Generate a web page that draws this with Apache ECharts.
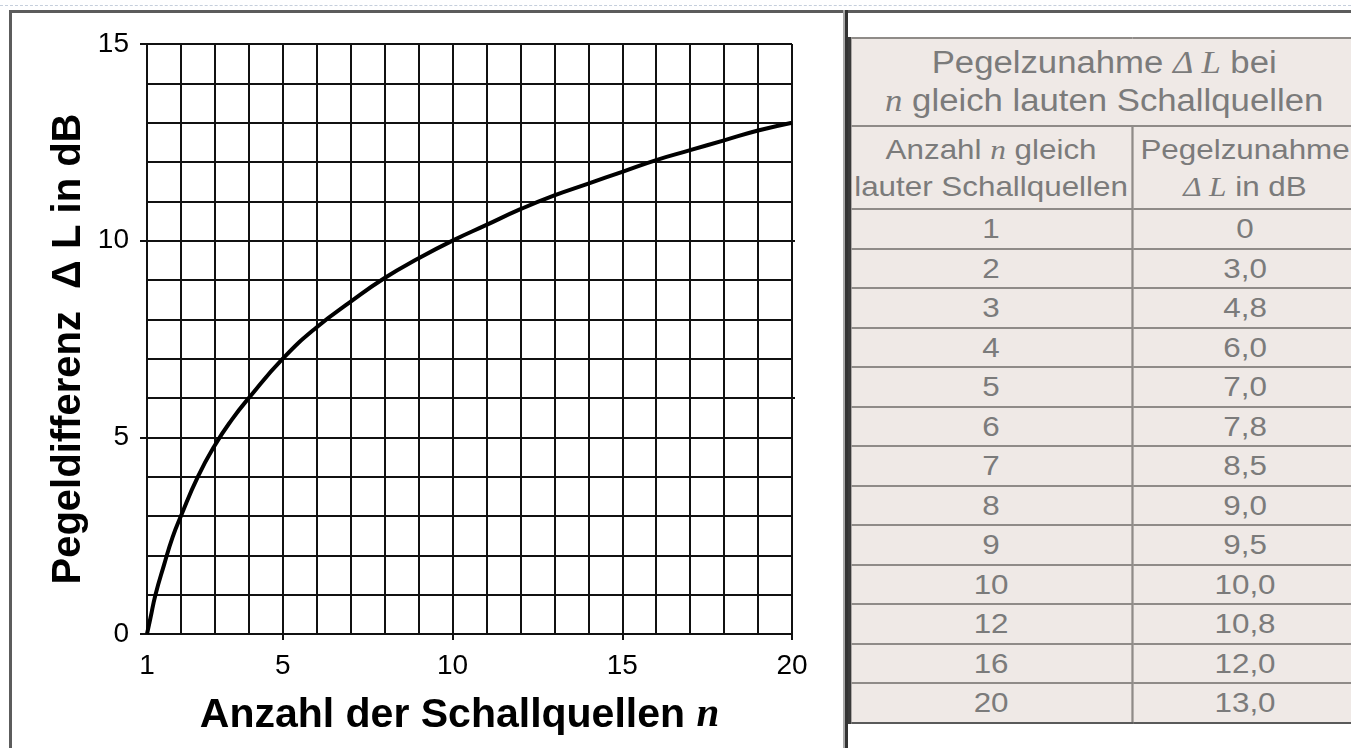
<!DOCTYPE html>
<html>
<head>
<meta charset="utf-8">
<script src="https://cdn.jsdelivr.net/npm/echarts@6/dist/echarts.min.js"></script>
<style>
	html, body { margin:0; padding:0; width:1351px; height:748px; overflow:hidden; background:#fff; }
	#chart { position:absolute; left:0; top:0; width:1351px; height:748px; }
	.dots { position:absolute; left:0; top:5px; width:1351px; border-top:1px dashed #c6cfdc; }
	.frame-top { position:absolute; left:9px; top:10px; width:1342px; height:3px; background:#5c5c5c; }
	.frame-left { position:absolute; left:9px; top:10px; width:3px; height:738px; background:#5c5c5c; }
	.divider-a { position:absolute; left:843px; top:10px; width:2px; height:738px; background:#a8a8a8; }
	.divider-b { position:absolute; left:845px; top:10px; width:3px; height:738px; background:#333; }
	#tbl {
		position:absolute; left:848px; top:37px; width:454px;
		border-collapse:collapse; table-layout:fixed;
		transform-origin:0 0; transform:scaleX(1.12);
		background:#efe9e6; color:#7b7b7b;
		font-family:'Liberation Sans', Arial, sans-serif;
	}
	#tbl td { border:2px solid #8f8b88; text-align:center; padding:0; overflow:visible; white-space:nowrap; }
	#tbl td:first-child { border-left:3px solid #3a3a3a; }
	#tbl tr:last-child td { border-bottom:2px solid #5a5a5a; }
	#tbl .h1 td { height:86px; font-size:31px; line-height:38px; }
	#tbl .h2 td { height:81px; font-size:28px; line-height:37px; }
	#tbl .row td { height:37.5px; font-size:28px; line-height:37px; }
	#tbl i { font-family:'Liberation Serif', serif; font-style:italic; }
</style>
</head>
<body>
<div id="chart"></div>
<div class="dots"></div>
<div class="frame-top"></div>
<div class="frame-left"></div>
<div class="divider-a"></div>
<div class="divider-b"></div>
<table id="tbl"><colgroup><col style="width:252px"><col style="width:202px"></colgroup><tbody></tbody></table>
<script>
	// curve points
	const curveN = [1, 1.1, 1.25, 1.5, 1.75, 2, 2.5, 3, 3.5, 4, 5, 6, 7, 8, 9, 10, 11, 12, 13, 14, 15, 16, 17, 18, 19, 20];
	const curveDL = [0, 0.4, 1.0, 1.75, 2.45, 3.0, 4.0, 4.8, 5.45, 6.0, 7.0, 7.8, 8.45, 9.05, 9.55, 10.0, 10.4, 10.8, 11.15, 11.45, 11.75, 12.05, 12.3, 12.55, 12.8, 13.0];

	// table on the right
	const tableN = ['1', '2', '3', '4', '5', '6', '7', '8', '9', '10', '12', '16', '20'];
	const tableDL = ['0', '3,0', '4,8', '6,0', '7,0', '7,8', '8,5', '9,0', '9,5', '10,0', '10,8', '12,0', '13,0'];

	const xLabels = [1, 5, 10, 15, 20];
	const xTicks = [5, 10, 15, 20];
	const yTicks = [0, 5, 10, 15];
	const yRightTicks = [6, 10];

	let rows = `<tr class="h1"><td colspan="2">Pegelzunahme <i>Δ L</i> bei<br><i>n</i> gleich lauten Schallquellen</td></tr>
		<tr class="h2"><td>Anzahl <i>n</i> gleich<br>lauter Schallquellen</td><td>Pegelzunahme<br><i>Δ L</i> in dB</td></tr>`;
	tableN.forEach((n, i)=>{
		rows += `<tr class="row"><td>${n}</td><td>${tableDL[i]}</td></tr>`;
	});
	document.querySelector('#tbl tbody').innerHTML = rows;

	const INK = '#111';
	const FONT = "'Liberation Sans', Arial, sans-serif";
	const tickOnly = (extra) => Object.assign({
		type: 'value',
		axisLine: {show:false},
		axisLabel: {show:false},
		splitLine: {show:false}
	}, extra);

	let chart = echarts.init(document.getElementById('chart'));
	chart.setOption({
		animation: false,
		grid: {left:147, top:44, width:645, height:590, containLabel:false},
		xAxis: [
			{
				type: 'value', min: 1, max: 20, interval: 1,
				axisLine: {show:true, onZero:false, lineStyle:{color:INK, width:2}},
				axisTick: {show:false},
				axisLabel: {
					show:true, margin:18, color:'#000', fontSize:28, fontFamily:FONT,
					formatter: v => xLabels.indexOf(v) >= 0 ? String(v) : ''
				},
				splitLine: {show:true, lineStyle:{color:INK, width:2}},
				name: '{a|Anzahl der Schallquellen }{n|n}',
				nameLocation: 'middle',
				nameGap: 61,
				nameTextStyle: {
					padding: [0, 20, 0, 0],
					rich: {
						a: {fontSize:41, fontWeight:'bold', fontFamily:FONT, color:'#000'},
						n: {fontSize:41, fontWeight:'bold', fontStyle:'italic', fontFamily:"'Liberation Serif', serif", color:'#000'}
					}
				}
			},
			tickOnly({min:1, max:20, position:'bottom',
				axisTick:{show:true, customValues:xTicks, length:6, lineStyle:{color:INK, width:2}}}),
			tickOnly({min:1, max:20, position:'top',
				axisTick:{show:true, customValues:xTicks, length:4, lineStyle:{color:INK, width:2}}})
		],
		yAxis: [
			{
				type: 'value', min: 0, max: 15, interval: 1,
				axisLine: {show:true, onZero:false, lineStyle:{color:INK, width:2}},
				axisTick: {show:false},
				axisLabel: {
					show:true, margin:18, color:'#000', fontSize:28, fontFamily:FONT,
					formatter: v => yTicks.indexOf(v) >= 0 ? String(v) : ''
				},
				splitLine: {show:true, lineStyle:{color:INK, width:2}},
				name: 'Pegeldifferenz  Δ L in dB',
				nameLocation: 'middle',
				nameGap: 58,
				nameTextStyle: {
					fontSize: 40, fontWeight: 'bold', fontFamily: FONT, color: '#000',
					padding: [0, 20, 0, 0]
				}
			},
			tickOnly({min:0, max:15, position:'left',
				axisTick:{show:true, customValues:yTicks, length:7, lineStyle:{color:INK, width:2}}}),
			tickOnly({min:0, max:15, position:'right',
				axisTick:{show:true, customValues:yRightTicks, length:3, lineStyle:{color:INK, width:2}}})
		],
		series: [{
			type: 'line',
			data: curveN.map((n, i)=>[n, curveDL[i]]),
			smooth: 0.5,
			showSymbol: false,
			lineStyle: {color:'#000', width:4},
			z: 5
		}]
	});
</script>
</body>
</html>
